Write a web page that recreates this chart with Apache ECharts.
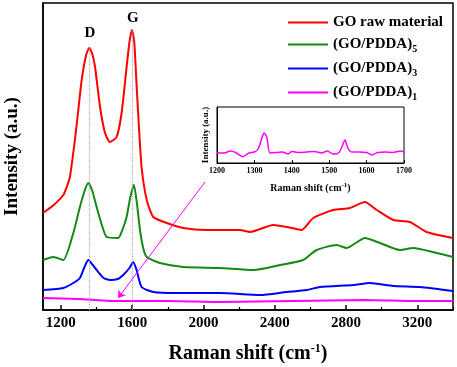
<!DOCTYPE html>
<html>
<head>
<meta charset="utf-8">
<script src="https://cdn.jsdelivr.net/npm/echarts@6/dist/echarts.min.js"></script>
<style>
  html, body { margin: 0; padding: 0; background: #fff; }
  #chart { width: 457px; height: 367px; }
</style>
</head>
<body>
<div id="chart"></div>
<script>
// spectra: [raman shift, intensity (offset, a.u.)]
var goRaw = [[1100,97],[1160,105],[1214,115],[1233,123],[1251,133],[1279,170],[1298,200],[1317,230],[1342,255],[1360,262],[1378,255],[1392,243],[1420,203],[1448,177],[1476,168],[1513,173],[1541,197],[1569,243],[1585,268],[1599,280],[1612,268],[1625,225],[1635,193],[1653,143],[1682,110],[1719,93],[1794,87],[1887,82],[2018,80],[2205,80],[2261,78],[2392,85],[2467,83],[2551,80],[2616,92],[2728,100],[2822,102],[2906,108],[2972,100],[3065,90],[3158,88],[3252,78],[3400,72]];
var gp5 = [[1100,50],[1158,53],[1214,50],[1270,77],[1307,103],[1335,120],[1354,127],[1375,120],[1401,103],[1430,85],[1457,73],[1522,72],[1545,80],[1569,93],[1590,113],[1610,125],[1628,105],[1644,80],[1662,62],[1682,53],[1756,47],[1887,43],[2093,42],[2280,40],[2429,45],[2560,50],[2635,60],[2747,65],[2803,62],[2906,72],[2990,67],[3102,60],[3177,62],[3308,57],[3400,53]];
var gp3 = [[1100,20],[1214,22],[1270,27],[1307,32],[1335,44],[1354,50],[1375,46],[1401,40],[1440,32],[1476,30],[1520,31],[1550,35],[1585,42],[1606,48],[1625,40],[1653,23],[1719,18],[1850,17],[2093,17],[2317,15],[2467,18],[2579,20],[2654,23],[2841,25],[2934,27],[3065,24],[3214,23],[3400,19]];
var gp1 = [[1100,12],[1300,11],[1500,9],[1800,9],[2100,8],[2500,9],[2900,10],[3200,9],[3400,9]];
// inset: (GO/PDDA)1 zoomed
var gp1Inset = [[1200,10],[1220,10],[1235,12],[1250,10.5],[1269,6.3],[1285,10],[1300,11],[1310,14],[1320,25],[1326,30],[1333,26],[1342,10],[1360,10.5],[1375,11],[1390,9],[1400,11.5],[1420,10.5],[1440,11],[1460,11.5],[1480,10],[1495,12],[1510,9],[1525,10],[1535,17],[1542,23],[1550,15],[1560,11],[1580,11],[1600,10.5],[1614,8],[1630,10.5],[1650,11],[1670,10.5],[1690,12],[1700,11]];

var majorTicks = [1200, 1600, 2000, 2400, 2800, 3200];
var minorTicks = [1400, 1800, 2200, 2600, 3000, 3400];
var peakD = 1358, peakG = 1599;

var serif = "'Times New Roman', 'Liberation Serif', serif";
var legendNames = {
  "GO raw material": "{b|GO raw material}",
  "(GO/PDDA)5": "{b|(GO/PDDA)}{s|5}",
  "(GO/PDDA)3": "{b|(GO/PDDA)}{s|3}",
  "(GO/PDDA)1": "{b|(GO/PDDA)}{s|1}"
};
function plain(v) { return String(v); }

var chart = echarts.init(document.getElementById("chart"));
chart.setOption({
  animation: false,
  backgroundColor: "#fff",
  grid: [
    { left: 43, top: 3, right: 4, bottom: 57, outerBoundsMode: "none", show: true, borderColor: "#000", borderWidth: 1.5 },
    { left: 217, top: 107, width: 187, height: 56, outerBoundsMode: "none", show: true, borderColor: "#000", borderWidth: 1, backgroundColor: "#fff" }
  ],
  legend: {
    orient: "vertical", right: 14, top: 15, padding: 0, itemGap: 7,
    itemWidth: 40, itemHeight: 2, icon: "rect",
    data: ["GO raw material", "(GO/PDDA)5", "(GO/PDDA)3", "(GO/PDDA)1"],
    formatter: function (n) { return legendNames[n]; },
    textStyle: {
      rich: {
        b: { fontFamily: serif, fontWeight: "bold", fontSize: 15, color: "#000" },
        s: { fontFamily: serif, fontWeight: "bold", fontSize: 10, color: "#000", padding: [9, 0, 0, 0], verticalAlign: "bottom" }
      }
    }
  },
  xAxis: [
    {
      gridIndex: 0, type: "value", min: 1100, max: 3400,
      name: "Raman shift (cm{sup|-1})", nameLocation: "middle", nameGap: 33,
      nameTextStyle: {
        fontFamily: serif, fontWeight: "bold", fontSize: 20, color: "#000",
        rich: { sup: { fontFamily: serif, fontWeight: "bold", fontSize: 12, color: "#000", padding: [0, 0, 9, 0] } }
      },
      axisLine: { lineStyle: { color: "#000", width: 1.5 } },
      axisTick: { inside: true, length: 5, customValues: majorTicks, lineStyle: { color: "#000", width: 1.5 } },
      axisLabel: { customValues: majorTicks, formatter: plain, margin: 6, fontFamily: serif, fontWeight: "bold", fontSize: 15, color: "#000" },
      splitLine: { show: false }
    },
    {
      gridIndex: 0, type: "value", min: 1100, max: 3400, position: "bottom",
      axisLine: { show: false },
      axisTick: { inside: true, length: 3, customValues: minorTicks, lineStyle: { color: "#000", width: 1.2 } },
      axisLabel: { show: false }, splitLine: { show: false }
    },
    {
      gridIndex: 1, type: "value", min: 1200, max: 1700, interval: 100,
      name: "Raman shift (cm{sup|-1})", nameLocation: "middle", nameGap: 19,
      nameTextStyle: {
        fontFamily: serif, fontWeight: "bold", fontSize: 10, color: "#000",
        rich: { sup: { fontFamily: serif, fontWeight: "bold", fontSize: 7, color: "#000", padding: [0, 0, 5, 0] } }
      },
      axisLine: { lineStyle: { color: "#000", width: 1 } },
      axisTick: { inside: true, length: 3, lineStyle: { color: "#000" } },
      axisLabel: { formatter: plain, margin: 4, fontFamily: serif, fontWeight: "bold", fontSize: 8, color: "#000" },
      splitLine: { show: false }
    }
  ],
  yAxis: [
    {
      gridIndex: 0, type: "value", min: 0, max: 307,
      name: "Intensity (a.u.)", nameLocation: "middle", nameGap: 21,
      nameTextStyle: { fontFamily: serif, fontWeight: "bold", fontSize: 19, color: "#000" },
      axisLine: { lineStyle: { color: "#000", width: 1.5 } },
      axisTick: { show: false }, axisLabel: { show: false }, splitLine: { show: false }
    },
    {
      gridIndex: 1, type: "value", min: 0, max: 56,
      name: "Intensity (a.u.)", nameLocation: "middle", nameGap: 7,
      nameTextStyle: { fontFamily: serif, fontWeight: "bold", fontSize: 9, color: "#000" },
      axisLine: { lineStyle: { color: "#000", width: 1 } },
      axisTick: { show: false }, axisLabel: { show: false }, splitLine: { show: false }
    }
  ],
  series: [
    {
      name: "GO raw material", type: "line", data: goRaw, smooth: 0.2, showSymbol: false,
      lineStyle: { color: "#ff0000", width: 2 }, itemStyle: { color: "#ff0000" }, z: 4,
      markLine: {
        silent: true, symbol: "none", label: { show: false },
        lineStyle: { color: "#aaa", type: "dotted", width: 1.2 },
        data: [
          [{ coord: [peakD, 0] }, { coord: [peakD, 262] }],
          [{ coord: [peakG, 0] }, { coord: [peakG, 280] }]
        ]
      },
      markPoint: {
        symbolSize: 0,
        label: { show: true, fontFamily: serif, fontWeight: "bold", fontSize: 15, color: "#000" },
        data: [
          { coord: [peakD + 5, 277], value: "D" },
          { coord: [peakG + 5, 292], value: "G" }
        ]
      }
    },
    {
      name: "(GO/PDDA)5", type: "line", data: gp5, smooth: 0.2, showSymbol: false,
      lineStyle: { color: "#138a13", width: 2 }, itemStyle: { color: "#138a13" }, z: 3
    },
    {
      name: "(GO/PDDA)3", type: "line", data: gp3, smooth: 0.2, showSymbol: false,
      lineStyle: { color: "#0000ff", width: 2 }, itemStyle: { color: "#0000ff" }, z: 3
    },
    {
      name: "(GO/PDDA)1", type: "line", data: gp1, smooth: 0.2, showSymbol: false,
      lineStyle: { color: "#ff00ff", width: 2 }, itemStyle: { color: "#ff00ff" }, z: 3,
      markLine: {
        silent: true, symbol: ["none", "arrow"], symbolSize: 7, label: { show: false },
        lineStyle: { color: "#ff00ff", type: "solid", width: 1 },
        data: [[{ coord: [2009, 128] }, { coord: [1521, 12] }]]
      }
    },
    {
      name: "inset", type: "line", xAxisIndex: 2, yAxisIndex: 1, data: gp1Inset, smooth: 0.3,
      showSymbol: false, lineStyle: { color: "#ff00ff", width: 1.5 }, z: 6
    }
  ]
});
</script>
</body>
</html>
